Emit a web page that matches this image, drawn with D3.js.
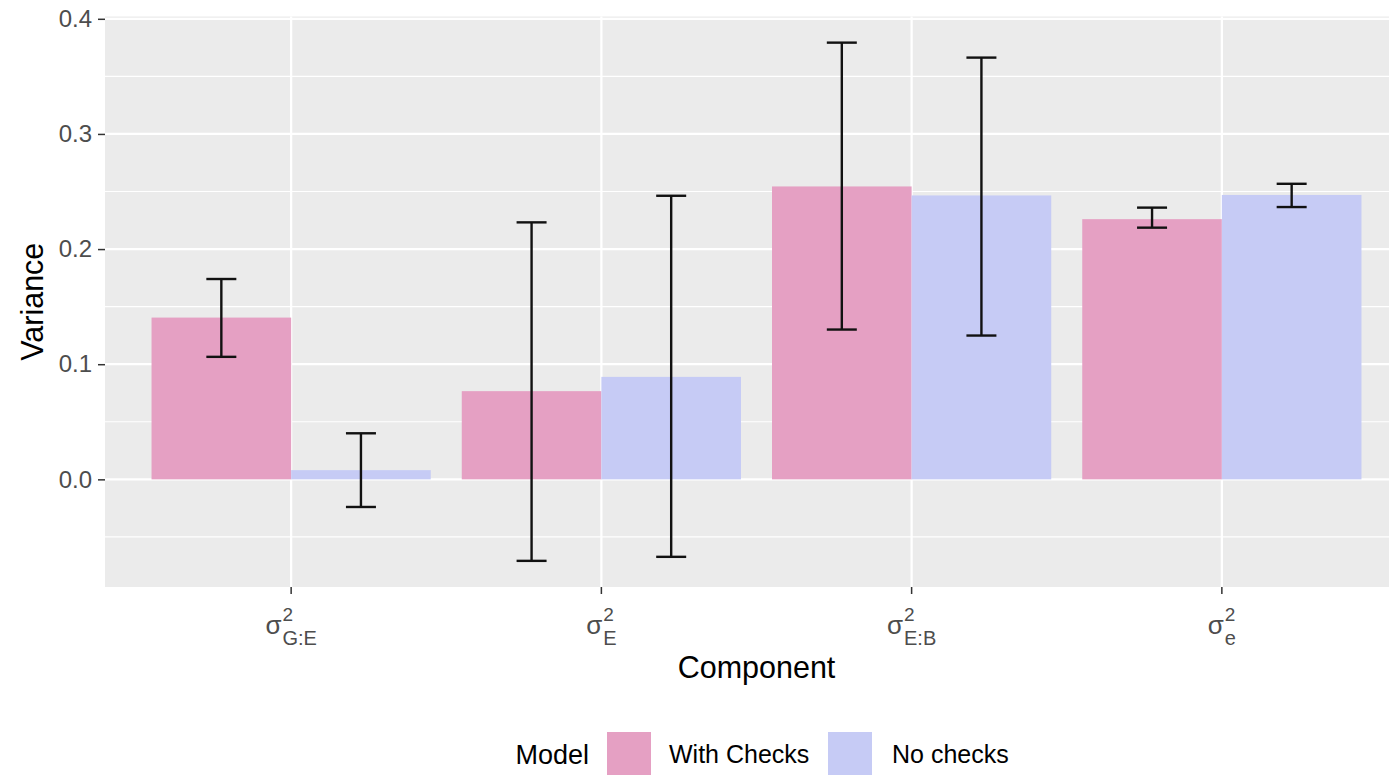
<!DOCTYPE html>
<html>
<head>
<meta charset="utf-8">
<script src="https://cdn.jsdelivr.net/npm/d3@7"></script>
<style>
  body { margin: 0; background: #fff; }
  svg { display: block; font-family: "Liberation Sans", Arial, sans-serif; }
</style>
</head>
<body>
<div id="chart"></div>
<script>
"use strict";

// component labels (subscript of sigma^2)
const components = ["G:E", "E", "E:B", "e"];
const models = ["With Checks", "No checks"];
const modelColors = ["#e5a0c3", "#c6cbf5"];

const withChecks = [0.1405, 0.0766, 0.2544, 0.226];
const withLower = [0.1064, -0.0708, 0.1301, 0.2186];
const withUpper = [0.174, 0.2232, 0.3793, 0.236];

const noChecks = [0.008, 0.089, 0.2466, 0.247];
const noLower = [-0.024, -0.0673, 0.1249, 0.2365];
const noUpper = [0.040, 0.2463, 0.3663, 0.2567];

const yTicks = [0.0, 0.1, 0.2, 0.3, 0.4];
const yMinorTicks = [-0.05, 0.05, 0.15, 0.25, 0.35];

(function drawChart() {
  const width = 1389;
  const height = 775;
  const panel = { left: 105, top: 16.5, right: 1408, bottom: 587 };

  const rows = [];
  components.forEach((c, i) => {
    rows.push({ comp: c, model: models[0], value: withChecks[i], lo: withLower[i], hi: withUpper[i] });
    rows.push({ comp: c, model: models[1], value: noChecks[i], lo: noLower[i], hi: noUpper[i] });
  });

  const svg = d3
    .select("#chart")
    .append("svg")
    .attr("width", width)
    .attr("height", height);

  const x = d3
    .scaleBand()
    .domain(components)
    .range([panel.left, panel.right])
    .paddingInner(0)
    .paddingOuter(0.1);
  const step = x.step();
  const xSub = d3
    .scaleBand()
    .domain(models)
    .range([-0.45 * step, 0.45 * step]);
  const y = d3.scaleLinear().domain([-0.0935, 0.402]).range([panel.bottom, panel.top]);
  const color = d3.scaleOrdinal().domain(models).range(modelColors);

  // panel background
  svg
    .append("rect")
    .attr("x", panel.left)
    .attr("y", panel.top)
    .attr("width", panel.right - panel.left)
    .attr("height", panel.bottom - panel.top)
    .attr("fill", "#ebebeb");

  const grid = svg.append("g");
  grid
    .selectAll(".minor")
    .data(yMinorTicks)
    .join("line")
    .attr("x1", panel.left)
    .attr("x2", panel.right)
    .attr("y1", (d) => y(d))
    .attr("y2", (d) => y(d))
    .attr("stroke", "#fff")
    .attr("stroke-width", 1.1);
  grid
    .selectAll(".major")
    .data(yTicks)
    .join("line")
    .attr("x1", panel.left)
    .attr("x2", panel.right)
    .attr("y1", (d) => y(d))
    .attr("y2", (d) => y(d))
    .attr("stroke", "#fff")
    .attr("stroke-width", 2.2);
  grid
    .selectAll(".vmajor")
    .data(components)
    .join("line")
    .attr("x1", (d) => x(d) + step / 2)
    .attr("x2", (d) => x(d) + step / 2)
    .attr("y1", panel.top)
    .attr("y2", panel.bottom)
    .attr("stroke", "#fff")
    .attr("stroke-width", 2.2);

  // bars
  svg
    .append("g")
    .selectAll("rect")
    .data(rows)
    .join("rect")
    .attr("x", (d) => x(d.comp) + step / 2 + xSub(d.model))
    .attr("width", xSub.bandwidth())
    .attr("y", (d) => y(Math.max(0, d.value)))
    .attr("height", (d) => Math.abs(y(d.value) - y(0)))
    .attr("fill", (d) => color(d.model));

  // error bars
  const capHalf = 15;
  const eb = svg
    .append("g")
    .selectAll("g")
    .data(rows)
    .join("g")
    .attr("transform", (d) => `translate(${x(d.comp) + step / 2 + xSub(d.model) + xSub.bandwidth() / 2},0)`)
    .attr("stroke", "#111")
    .attr("stroke-width", 2.4);
  eb.append("line").attr("x1", 0).attr("x2", 0).attr("y1", (d) => y(d.lo)).attr("y2", (d) => y(d.hi));
  eb.append("line").attr("x1", -capHalf).attr("x2", capHalf).attr("y1", (d) => y(d.lo)).attr("y2", (d) => y(d.lo));
  eb.append("line").attr("x1", -capHalf).attr("x2", capHalf).attr("y1", (d) => y(d.hi)).attr("y2", (d) => y(d.hi));

  // y axis
  const yAxis = svg
    .append("g")
    .attr("transform", `translate(${panel.left},0)`)
    .call(d3.axisLeft(y).tickValues(yTicks).tickFormat(d3.format(".1f")).tickSize(7).tickPadding(6));
  yAxis.select(".domain").remove();
  yAxis.selectAll(".tick line").attr("stroke", "#333").attr("stroke-width", 1.5);
  yAxis
    .selectAll(".tick text")
    .attr("fill", "#4d4d4d")
    .style("font-size", "24px")
    .style("font-family", "'Liberation Sans', Arial, sans-serif");

  // x axis
  const xAxis = svg
    .append("g")
    .attr("transform", `translate(0,${panel.bottom})`)
    .call(d3.axisBottom(x).tickSize(7).tickFormat(""));
  xAxis.select(".domain").remove();
  xAxis.selectAll(".tick line").attr("stroke", "#333").attr("stroke-width", 1.5);
  xAxis.selectAll(".tick text").remove();

  components.forEach((c) => {
    const g = svg.append("g").attr("fill", "#4d4d4d");
    const sig = g.append("text").attr("x", 0).attr("y", 634).style("font-size", "26px").text("σ");
    const sw = sig.node().getComputedTextLength();
    const sup = g.append("text").attr("x", sw + 1).attr("y", 621).style("font-size", "19px").text("2");
    const sub = g.append("text").attr("x", sw + 1).attr("y", 645).style("font-size", "20px").text(c);
    const total = sw + 1 + Math.max(sup.node().getComputedTextLength(), sub.node().getComputedTextLength());
    g.attr("transform", `translate(${x(c) + step / 2 - total / 2},0)`);
  });

  // axis titles
  svg
    .append("text")
    .attr("x", (panel.left + panel.right) / 2)
    .attr("y", 678)
    .attr("text-anchor", "middle")
    .attr("fill", "#000")
    .style("font-size", "30.5px")
    .text("Component");
  svg
    .append("text")
    .attr("transform", `translate(43,${(panel.top + panel.bottom) / 2}) rotate(-90)`)
    .attr("text-anchor", "middle")
    .attr("fill", "#000")
    .style("font-size", "30.5px")
    .text("Variance");

  // legend
  const legend = svg.append("g");
  const keyTop = 732;
  const keySize = 44;
  legend
    .append("text")
    .attr("x", 589)
    .attr("y", keyTop + keySize / 2 + 10)
    .attr("text-anchor", "end")
    .style("font-size", "27px")
    .text("Model");
  const keyX = [607, 828];
  const labelX = [669, 892];
  models.forEach((m, i) => {
    legend
      .append("rect")
      .attr("x", keyX[i])
      .attr("y", keyTop)
      .attr("width", keySize)
      .attr("height", keySize)
      .attr("fill", color(m));
    legend
      .append("text")
      .attr("x", labelX[i])
      .attr("y", keyTop + keySize / 2 + 9)
      .style("font-size", "25px")
      .text(m);
  });
})();
</script>
</body>
</html>
